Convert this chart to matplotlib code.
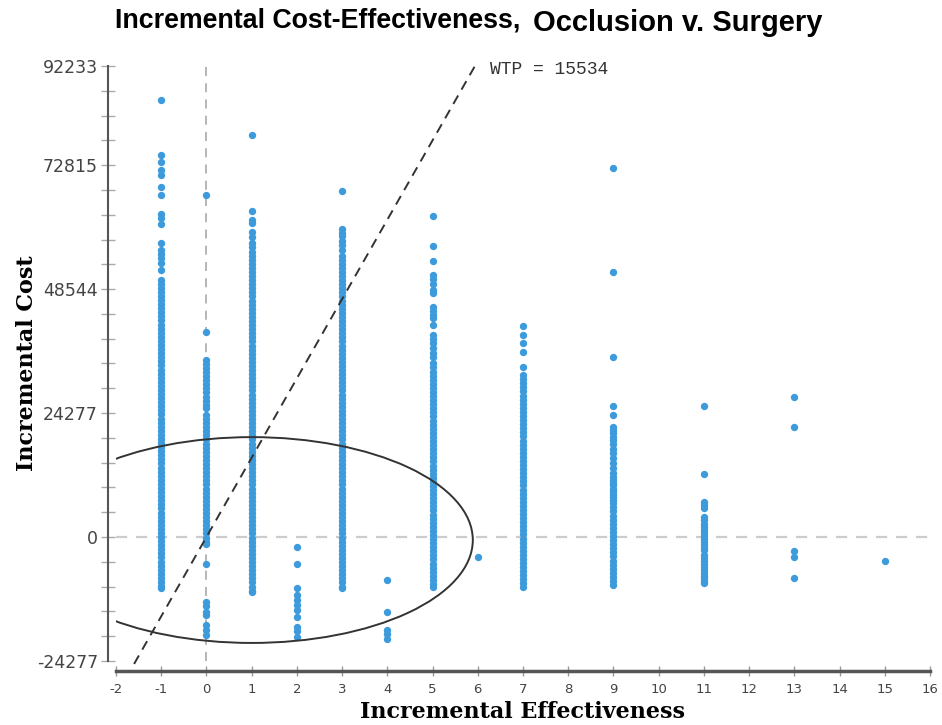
import numpy as np
import matplotlib.pyplot as plt
from matplotlib.patches import Ellipse

# incremental cost per simulated patient, in thousands, grouped by incremental effectiveness
effects = [-1, 0, 1, 2, 3, 4, 5, 6, 7, 9, 11, 13, 15]
cost_m1 = [85.6, 74.9, 73.5, 71.9, 70.9, 68.6, 67.0, 63.2, 62.4, 61.3, 57.5, 56.2, 55.5, 54.6, 53.6, 52.3, 50.3,
           49.6, 48.8, 48.0, 47.2, 46.4, 45.6, 44.8, 44.0, 43.2, 42.4, 41.6, 40.8, 40.0, 39.2, 38.4, 37.6,
           36.8, 36.0, 35.2, 34.4, 33.6, 32.8, 32.0, 31.2, 30.4, 29.6, 28.8, 28.0, 27.2, 26.4, 25.6, 24.8,
           24.0, 23.2, 22.4, 21.6, 20.8, 20.0, 19.2, 18.4, 17.6, 16.8, 16.0, 15.2, 14.4, 13.6, 12.8, 12.0,
           11.2, 10.4, 9.6, 8.8, 8.0, 7.2, 6.4, 5.6, 4.8, 4.0, 3.2, 2.4, 1.6, 0.8, 0.0, -0.8, -1.6, -2.4,
           -3.2, -4.0, -4.8, -5.6, -6.4, -7.2, -8.0, -8.8, -9.6, -10.0]
cost_0 = [67.0, 40.2,
          34.7, 33.9, 33.1, 32.3, 31.5, 30.7, 29.9, 29.1, 28.3, 27.5, 26.7, 25.9, 25.3,
          23.9, 23.1, 22.3, 21.5, 20.7, 19.9, 19.1, 18.3, 17.5, 16.7, 15.9, 15.1, 14.3, 13.5, 12.7, 11.9,
          11.1, 10.3, 9.5, 8.7, 7.9, 7.1, 6.3, 5.5, 4.7, 3.9, 3.1, 2.3, 1.5, 0.7, -0.1, -0.9, -1.3,
          -5.2, -12.7, -13.6, -14.6, -15.3, -17.2, -18.2, -19.2]
cost_1 = [78.8, 63.8, 62.1, 61.5, 59.8, 58.8,
          57.5, 56.7, 55.9, 55.1, 54.3, 53.5, 52.7, 51.9, 51.1, 50.3, 49.5, 48.7, 47.9, 47.1, 46.3, 45.5,
          44.7, 43.9, 43.1, 42.3, 41.5, 40.7, 39.9, 39.1, 38.3, 37.5, 36.7, 35.9, 35.1, 34.3, 33.5, 32.7,
          31.9, 31.1, 30.3, 29.5, 28.7, 27.9, 27.1, 26.3, 25.5, 24.7, 23.9, 23.1, 22.3, 21.5, 20.7, 19.9,
          19.1, 18.3, 17.5, 16.7, 15.9, 15.1, 14.3, 13.5, 12.7, 11.9, 11.1, 10.3, 9.5, 8.7, 7.9, 7.1, 6.3,
          5.5, 4.7, 3.9, 3.1, 2.3, 1.5, 0.7, -0.1, -0.9, -1.7, -2.5, -3.3, -4.1, -4.9, -5.7, -6.5, -7.3,
          -8.1, -8.9, -9.7, -10.5, -10.7]
cost_2 = [-1.9, -5.3, -10.0, -11.4, -12.3, -13.3, -14.3, -15.6, -17.6, -18.5, -19.6]
cost_3 = [67.8, 60.4, 59.6, 58.9, 58.0, 57.2, 56.2,
          55.1, 54.3, 53.5, 52.7, 51.9, 51.1, 50.3, 49.5, 48.7, 47.9, 47.1, 46.3, 45.5, 44.7, 43.9, 43.1,
          42.3, 41.5, 40.7, 39.9, 39.1, 38.3, 37.5, 36.7, 35.9, 35.1, 34.3, 33.5, 32.7, 31.9, 31.1, 30.3,
          29.5, 28.7, 27.9, 27.1, 26.3, 25.5, 24.7, 23.9, 23.1, 22.3, 21.5, 20.7, 19.9, 19.1, 18.3, 17.5,
          16.7, 15.9, 15.1, 14.3, 13.5, 12.7, 11.9, 11.1, 10.3, 9.5, 8.7, 7.9, 7.1, 6.3, 5.5, 4.7, 3.9,
          3.1, 2.3, 1.5, 0.7, -0.1, -0.9, -1.7, -2.5, -3.3, -4.1, -4.9, -5.7, -6.5, -7.3, -8.1, -8.9,
          -9.7, -10.0]
cost_4 = [-8.4, -14.6, -18.2, -18.9, -20.0]
cost_5 = [62.9, 57.0, 54.1, 51.3, 50.6, 49.5, 48.4, 47.7, 45.0, 44.2, 43.5, 42.8, 41.5, 39.6, 38.8, 37.9,
          37.0, 36.1, 35.3,
          34.0, 33.2, 32.4, 31.6, 30.8, 30.0, 29.2, 28.4, 27.6, 26.8, 26.0, 25.2, 24.4, 23.6, 22.8, 22.0,
          21.2, 20.4, 19.6, 18.8, 18.0, 17.2, 16.4, 15.6, 14.8, 14.0, 13.2, 12.4, 11.6, 10.8, 10.0, 9.2,
          8.4, 7.6, 6.8, 6.0, 5.2, 4.4, 3.6, 2.8, 2.0, 1.2, 0.4, -0.4, -1.2, -2.0, -2.8, -3.6, -4.4, -5.2,
          -6.0, -6.8, -7.6, -8.4, -9.2, -9.7]
cost_6 = [-4.0]
cost_7 = [41.3, 39.6, 37.9, 36.2, 33.2,
          31.7, 30.9, 30.1, 29.3, 28.5, 27.7, 26.9, 26.1, 25.3, 24.5, 23.7, 22.9, 22.1, 21.3, 20.5, 19.7,
          18.9, 18.1, 17.3, 16.5, 15.7, 14.9, 14.1, 13.3, 12.5, 11.7, 10.9, 10.1, 9.3, 8.5, 7.7, 6.9, 6.1,
          5.3, 4.5, 3.7, 2.9, 2.1, 1.3, 0.5, -0.3, -1.1, -1.9, -2.7, -3.5, -4.3, -5.1, -5.9, -6.7, -7.5,
          -8.3, -9.1, -9.7]
cost_9 = [72.2, 51.9, 35.3, 25.7, 23.9,
          21.6, 20.9, 20.3, 19.6, 19.0, 18.2, 17.3, 16.4, 15.5, 14.5, 13.5, 12.5, 11.8, 11.2, 10.5, 10.1,
          9.5, 9.0, 8.4, 7.8, 7.2,
          6.6, 5.8, 5.0, 4.2, 3.4, 2.6, 1.8, 1.0, 0.2, -0.6, -1.4, -2.2, -3.0, -3.8, -4.6, -5.4, -6.2,
          -7.0, -7.8, -8.6, -9.4]
cost_11 = [25.7, 12.3, 6.9, 6.3, 5.6, 4.0, 3.3, 2.5, 2.0, 1.4, 0.8, 0.2, -0.4, -1.0, -1.6, -2.2, -2.5,
           -3.5, -4.1, -4.6, -5.2, -5.8, -6.4, -7.0, -7.6, -8.1, -8.6, -9.1]
cost_13 = [27.5, 21.5, -2.7, -4.0, -8.1]
cost_15 = [-4.7]
costs = [cost_m1, cost_0, cost_1, cost_2, cost_3, cost_4, cost_5, cost_6, cost_7,
         cost_9, cost_11, cost_13, cost_15]

wtp = 15534
ytick_lab = ['-24277', '0', '24277', '48544', '72815', '92233']
ystep = 92233 / 19.0

xs = np.concatenate([[e] * len(c) for e, c in zip(effects, costs)])
ys = np.concatenate([np.array(c) * 1000 for c in costs])

fig = plt.figure(figsize=(9.42, 7.25), dpi=100)
ax = fig.add_axes([116/942, 1 - 661/725, (930-116)/942, (661-66)/725])
ax.set_xlim(-2, 16)
ax.set_ylim(-24277, 92233)

ax.axhline(0, color='#cccccc', lw=1.6, ls=(0, (5, 4)), zorder=1)
ax.axvline(0, color='#b0b0b0', lw=1.3, ls=(0, (5, 4)), zorder=1)

ax.scatter(xs, ys, s=28, color='#3d9bdb', lw=0, zorder=2)

ell = Ellipse((1.0, -590), 9.78, 40300, fill=False, ec='#333333', lw=1.4, zorder=3)
ax.add_patch(ell)

wx = np.array([-1.6, 92233 / wtp])
ax.plot(wx, wx * wtp, color='#333333', lw=1.4, ls=(0, (5, 3.5)), zorder=4, clip_on=False)
ax.text(6.27, 91600, 'WTP = 15534', fontsize=13, family='Liberation Mono', color='#333333',
        va='center', ha='left')

for s in ['top', 'right']:
    ax.spines[s].set_visible(False)
ax.spines['left'].set_position(('outward', 6))
ax.spines['bottom'].set_position(('outward', 7))
ax.spines['left'].set_color('#555555')
ax.spines['left'].set_linewidth(1.5)
ax.spines['bottom'].set_color('#555555')
ax.spines['bottom'].set_linewidth(2.5)

ax.set_xticks(range(-2, 17))
ax.set_xticklabels([str(v) for v in range(-2, 17)], fontsize=9.5, color='#444444')
ax.set_yticks([k * ystep for k in range(-5, 20)], minor=True)
ax.set_yticks([k * ystep for k in [-5, 0, 5, 10, 15, 19]])
ax.set_yticklabels(ytick_lab, fontsize=12.5, color='#444444')
ax.tick_params(axis='x', direction='inout', length=7, width=1, color='#999999', pad=5)
ax.tick_params(axis='y', which='both', direction='inout', length=10, width=1, color='#aaaaaa', pad=2)

ax.set_xlabel('Incremental Effectiveness', family='DejaVu Serif', fontweight='bold', fontsize=16,
              labelpad=4)
ax.set_ylabel('Incremental Cost', family='DejaVu Serif', fontweight='bold', fontsize=16, labelpad=-1)

fig.text(115/942, 1 - 20/725, 'Incremental Cost-Effectiveness,', family='Liberation Sans',
         fontweight='bold', fontsize=19.3, va='center', ha='left')
fig.text(533/942, 1 - 23/725, 'Occlusion v. Surgery', family='Liberation Sans',
         fontweight='bold', fontsize=21, va='center', ha='left')

plt.savefig('out.png', dpi=100)
